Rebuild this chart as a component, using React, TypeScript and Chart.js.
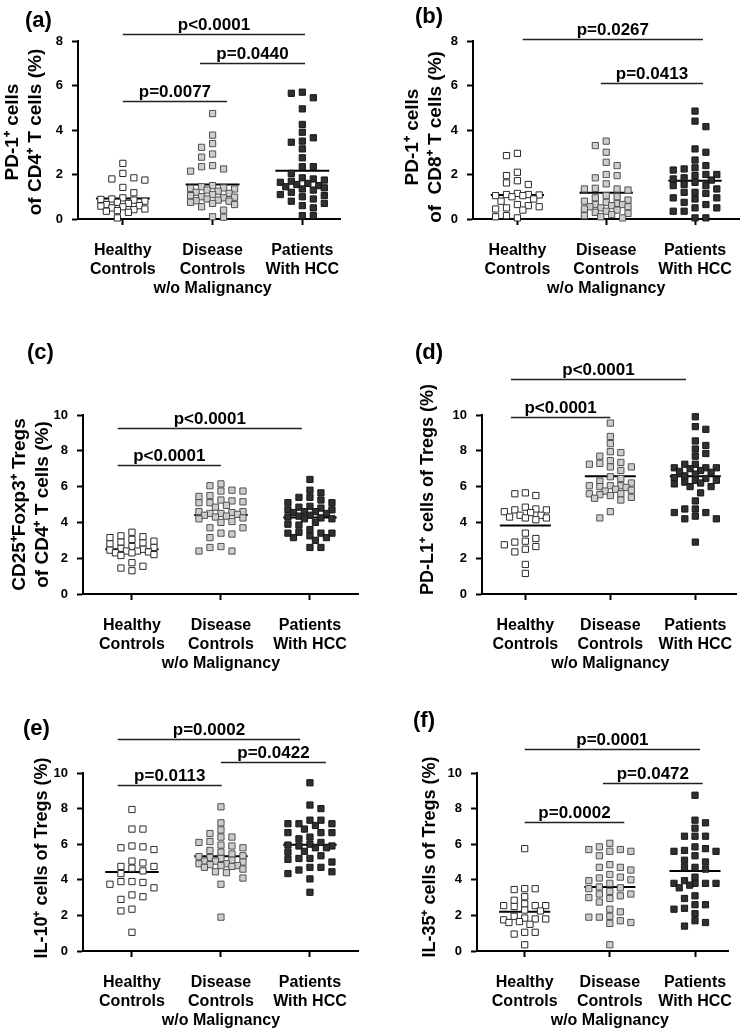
import React, { useEffect, useRef } from 'react';
import { Chart, registerables } from 'chart.js';
Chart.register(...registerables);

const FONT = "'Liberation Sans', Arial, Helvetica, sans-serif";

const categories: string[][] = [
  ['Healthy', 'Controls'],
  ['Disease', 'Controls', 'w/o Malignancy'],
  ['Patients', 'With HCC'],
];
const groupNames = ['Healthy Controls', 'Disease Controls', 'Patients With HCC'];

// ---- Panel (a): PD-1+ of CD4+ T cells ----
const a_HC = [2.5, 2.05, 1.85, 1.8, 1.75, 1.42, 1.18, 0.95, 0.9, 0.88, 0.85, 0.8, 0.75, 0.7, 0.65, 0.6, 0.58, 0.55, 0.5, 0.45, 0.42, 0.38, 0.35, 0.3, 0.05];
const a_DC = [4.74, 3.77, 3.39, 3.22, 2.92, 2.78, 2.4, 2.35, 2.25, 2.15, 1.5, 1.45, 1.4, 1.38, 1.35, 1.3, 1.25, 1.2, 1.15, 1.1, 1.05, 1.0, 0.98, 0.95, 0.9, 0.85, 0.82, 0.8, 0.75, 0.7, 0.65, 0.55, 0.4, 0.1, 0.08];
const a_HCC = [5.7, 5.65, 5.45, 4.95, 4.25, 3.9, 3.65, 3.5, 3.45, 3.15, 2.75, 2.35, 2.35, 2.05, 1.85, 1.8, 1.75, 1.7, 1.65, 1.6, 1.55, 1.5, 1.45, 1.4, 1.35, 1.3, 1.2, 1.1, 1.05, 1.0, 0.9, 0.8, 0.7, 0.6, 0.5, 0.15, 0.15];
const a_means = [0.92, 1.55, 2.17];
const a_brackets: [number, number, number, string][] = [
  [1.0, 3.03, 8.3, 'p<0.0001'],
  [1.86, 3.03, 7.0, 'p=0.0440'],
  [1.0, 2.16, 5.3, 'p=0.0077'],
];

// ---- Panel (b): PD-1+ of CD8+ T cells ----
const b_HC = [2.95, 2.85, 2.1, 1.95, 1.72, 1.62, 1.55, 1.15, 1.1, 1.1, 1.08, 1.05, 1.05, 1.0, 0.9, 0.8, 0.65, 0.6, 0.55, 0.5, 0.45, 0.4, 0.15, 0.1, 0.05];
const b_DC = [3.5, 3.3, 3.0, 2.55, 2.4, 2.0, 1.95, 1.85, 1.58, 1.38, 1.35, 1.35, 1.3, 1.05, 1.0, 0.95, 0.85, 0.8, 0.75, 0.7, 0.65, 0.65, 0.6, 0.55, 0.55, 0.5, 0.45, 0.4, 0.35, 0.3, 0.25, 0.2, 0.15, 0.1, 0.05];
const b_HCC = [4.85, 4.4, 4.15, 3.15, 3.0, 2.65, 2.4, 2.3, 2.25, 2.2, 2.0, 2.0, 1.95, 1.85, 1.8, 1.75, 1.65, 1.55, 1.5, 1.5, 1.35, 1.2, 1.2, 1.15, 0.95, 0.95, 0.9, 0.75, 0.65, 0.5, 0.5, 0.35, 0.35, 0.05, 0.05];
const b_means = [1.08, 1.18, 1.72];
const b_brackets: [number, number, number, string][] = [
  [1.06, 3.09, 8.1, 'p=0.0267'],
  [1.94, 3.09, 6.1, 'p=0.0413'],
];

// ---- Panel (c): CD25+Foxp3+ Tregs of CD4+ T cells ----
const c_HC = [3.45, 3.25, 3.2, 3.15, 3.05, 2.95, 2.9, 2.85, 2.8, 2.65, 2.6, 2.55, 2.5, 2.45, 2.4, 2.4, 2.35, 2.3, 2.3, 2.2, 2.15, 1.75, 1.55, 1.45, 1.3];
const c_DC = [6.15, 6.05, 5.8, 5.75, 5.75, 5.5, 5.45, 5.25, 5.2, 5.15, 5.1, 5.1, 4.95, 4.85, 4.6, 4.6, 4.55, 4.5, 4.5, 4.45, 4.4, 4.35, 4.3, 4.25, 4.2, 4.05, 4.0, 3.7, 3.7, 3.4, 3.35, 3.15, 2.65, 2.6, 2.4, 2.4];
const c_HCC = [6.4, 5.8, 5.65, 5.4, 5.4, 5.25, 5.1, 5.1, 4.9, 4.85, 4.8, 4.7, 4.7, 4.6, 4.6, 4.55, 4.5, 4.4, 4.35, 4.3, 4.25, 4.2, 4.2, 4.0, 3.9, 3.85, 3.6, 3.45, 3.4, 3.4, 3.4, 3.25, 3.15, 3.15, 3.0, 2.6, 2.6];
const c_means = [2.5, 4.42, 4.27];
const c_brackets: [number, number, number, string][] = [
  [0.84, 2.91, 9.3, 'p<0.0001'],
  [0.84, 2.0, 7.2, 'p<0.0001'],
];

// ---- Panel (d): PD-L1+ cells of Tregs ----
const d_HC = [5.65, 5.6, 5.5, 4.85, 4.75, 4.7, 4.7, 4.6, 4.55, 4.4, 4.4, 4.3, 4.25, 4.25, 4.15, 3.4, 3.1, 2.95, 2.9, 2.75, 2.65, 2.5, 2.35, 1.65, 1.15];
const d_DC = [9.55, 8.8, 8.4, 7.95, 7.9, 7.7, 7.45, 7.35, 7.3, 7.25, 7.1, 7.1, 6.9, 6.55, 6.45, 6.3, 6.2, 6.05, 6.05, 6.05, 6.0, 5.95, 5.85, 5.8, 5.75, 5.6, 5.6, 5.55, 5.5, 5.4, 5.35, 5.25, 4.6, 4.25];
const d_HCC = [9.9, 9.35, 9.2, 8.55, 8.3, 8.1, 7.85, 7.7, 7.25, 7.25, 7.05, 7.05, 7.05, 7.0, 6.9, 6.85, 6.8, 6.7, 6.6, 6.5, 6.45, 6.35, 6.35, 6.25, 6.2, 6.15, 6.0, 6.0, 5.65, 5.2, 4.75, 4.75, 4.55, 4.55, 4.35, 4.2, 4.2, 2.9];
const d_means = [3.82, 6.58, 6.58];
const d_brackets: [number, number, number, string][] = [
  [0.83, 2.89, 12.0, 'p<0.0001'],
  [0.83, 2.0, 9.9, 'p<0.0001'],
];

// ---- Panel (e): IL-10+ cells of Tregs ----
const e_HC = [7.95, 6.85, 6.85, 5.9, 5.85, 5.8, 5.7, 5.05, 4.95, 4.75, 4.75, 4.65, 4.5, 4.35, 3.9, 3.9, 3.85, 3.75, 3.55, 3.15, 3.05, 2.9, 2.35, 2.25, 1.05];
const e_DC = [8.1, 7.2, 6.8, 6.6, 6.4, 6.4, 6.15, 6.1, 5.95, 5.9, 5.8, 5.65, 5.55, 5.45, 5.35, 5.3, 5.25, 5.2, 5.1, 5.05, 5.05, 5.0, 4.9, 4.9, 4.85, 4.8, 4.8, 4.75, 4.7, 4.6, 4.45, 4.4, 4.1, 3.75, 1.9];
const e_HCC = [9.45, 8.2, 8.0, 7.35, 7.35, 7.15, 7.15, 7.15, 7.05, 6.85, 6.65, 6.65, 6.65, 6.4, 6.3, 6.1, 6.0, 5.95, 5.9, 5.9, 5.8, 5.8, 5.6, 5.55, 5.35, 5.2, 5.2, 5.15, 5.0, 4.7, 4.7, 4.55, 4.45, 4.35, 4.05, 3.3];
const e_means = [4.44, 5.33, 5.97];
const e_brackets: [number, number, number, string][] = [
  [0.84, 2.89, 11.9, 'p=0.0002'],
  [2.0, 3.18, 10.6, 'p=0.0422'],
  [0.84, 2.01, 9.3, 'p=0.0113'],
];

// ---- Panel (f): IL-35+ cells of Tregs ----
const f_HC = [5.75, 3.5, 3.5, 3.45, 3.05, 2.85, 2.65, 2.55, 2.55, 2.55, 2.5, 2.3, 2.25, 1.95, 1.85, 1.8, 1.8, 1.75, 1.65, 1.6, 1.5, 1.05, 1.05, 0.95, 0.35];
const f_DC = [6.05, 5.85, 5.7, 5.7, 5.6, 5.6, 5.35, 4.85, 4.7, 4.7, 4.55, 4.3, 4.15, 4.1, 4.0, 3.95, 3.8, 3.6, 3.55, 3.5, 3.35, 3.2, 3.2, 3.1, 3.0, 2.95, 2.75, 2.35, 2.2, 1.95, 1.9, 1.9, 1.7, 1.6, 1.55, 0.35];
const f_HCC = [8.75, 7.35, 7.2, 6.9, 6.45, 6.45, 6.45, 5.85, 5.75, 5.65, 5.6, 5.6, 5.35, 5.1, 5.0, 4.7, 4.7, 4.6, 4.15, 3.95, 3.8, 3.8, 3.8, 3.8, 3.7, 3.55, 3.1, 2.95, 2.6, 2.6, 2.4, 2.35, 2.1, 1.7, 1.6, 1.4];
const f_means = [2.2, 3.6, 4.49];
const f_brackets: [number, number, number, string][] = [
  [1.0, 3.06, 11.35, 'p=0.0001'],
  [1.92, 3.09, 9.44, 'p=0.0472'],
  [1.0, 2.17, 7.25, 'p=0.0002'],
];

const groupStyles = [
  { fill: '#ffffff', border: '#2a2a2a' },
  { fill: '#cdcdcd', border: '#505050' },
  { fill: '#303030', border: '#161616' },
];

type PanelCfg = {
  label: string;
  title: string[];
  titleSize: number;
  groups: number[][];
  means: number[];
  brackets: [number, number, number, string][];
  yMax: number;
  xMin: number;
  xMax: number;
  // layout (page px)
  x0: number; y0: number; w: number; h: number;
  L: number; T: number; R: number; B: number;
  titleX: number; titleDy: number; labelX: number; labelY: number;
};

const panels: PanelCfg[] = [
  { label: '(a)', title: ['PD-1⁺ cells', 'of CD4⁺ T cells (%)'], titleSize: 19, groups: [a_HC, a_DC, a_HCC], means: a_means, brackets: a_brackets, yMax: 8, xMin: 0.5, xMax: 3.42,
    x0: 0, y0: 0, w: 372, h: 305, L: 78, T: 41, R: 340, B: 219, titleX: 13, titleDy: 2, labelX: 25, labelY: 21 },
  { label: '(b)', title: ['PD-1⁺ cells', 'of  CD8⁺ T cells (%)'], titleSize: 19, groups: [b_HC, b_DC, b_HCC], means: b_means, brackets: b_brackets, yMax: 8, xMin: 0.5, xMax: 3.5,
    x0: 375, y0: 0, w: 374, h: 305, L: 473, T: 41, R: 742, B: 219, titleX: 413, titleDy: 7, labelX: 415, labelY: 17 },
  { label: '(c)', title: ['CD25⁺Foxp3⁺ Tregs', 'of CD4⁺ T cells (%)'], titleSize: 19, groups: [c_HC, c_DC, c_HCC], means: c_means, brackets: c_brackets, yMax: 10, xMin: 0.45, xMax: 3.54,
    x0: 0, y0: 320, w: 372, h: 357, L: 83, T: 415, R: 358, B: 594, titleX: 20, titleDy: 0, labelX: 27, labelY: 353 },
  { label: '(d)', title: ['PD-L1⁺ cells of Tregs (%)'], titleSize: 18, groups: [d_HC, d_DC, d_HCC], means: d_means, brackets: d_brackets, yMax: 10, xMin: 0.49, xMax: 3.48,
    x0: 375, y0: 320, w: 374, h: 357, L: 482, T: 415, R: 748, B: 594, titleX: 428, titleDy: -15, labelX: 415, labelY: 353 },
  { label: '(e)', title: ['IL-10⁺ cells of Tregs (%)'], titleSize: 18, groups: [e_HC, e_DC, e_HCC], means: e_means, brackets: e_brackets, yMax: 10, xMin: 0.45, xMax: 3.54,
    x0: 0, y0: 680, w: 372, h: 353, L: 83, T: 773, R: 358, B: 951, titleX: 42, titleDy: -4, labelX: 23, labelY: 729 },
  { label: '(f)', title: ['IL-35⁺ cells of Tregs (%)'], titleSize: 18, groups: [f_HC, f_DC, f_HCC], means: f_means, brackets: f_brackets, yMax: 10, xMin: 0.44, xMax: 3.39,
    x0: 375, y0: 680, w: 374, h: 353, L: 477, T: 773, R: 740, B: 951, titleX: 430, titleDy: -5, labelX: 413, labelY: 721 },
];

// beeswarm-style horizontal spreading of one group's points (positions only, values untouched)
function swarm(values: number[], center: number, pxPerY: number, pxPerX: number) {
  const idx = values.map((_, i) => i).sort((a, b) => values[b] - values[a]);
  const placed: { dx: number; py: number }[] = [];
  const out: { x: number; y: number }[] = [];
  const step = 5.5;
  const size = 6.8;
  idx.forEach((i, k) => {
    const v = values[i];
    const py = v * pxPerY;
    const d = k % 2 === 0 ? 1 : -1;
    const cand = [0, 2 * d, -2 * d, d, -d, 4 * d, -4 * d, 3 * d, -3 * d];
    let chosen = 0;
    let best = Infinity;
    for (const s of cand) {
      const dx = s * step;
      let ov = 0;
      for (const p of placed) {
        const ox = size - Math.abs(p.dx - dx);
        const oy = size - Math.abs(p.py - py);
        if (ox > 0 && oy > 0) ov += ox * oy;
      }
      if (ov === 0) { chosen = s; best = 0; break; }
      if (ov < best - 1) { best = ov; chosen = s; }
    }
    placed.push({ dx: chosen * step, py });
    out.push({ x: center + (chosen * step) / pxPerX, y: v });
  });
  return out;
}

const annotPlugin = {
  id: 'annot',
  afterDraw(chart: any, _args: any, opts: any) {
    const { ctx, chartArea } = chart;
    const x = chart.scales.x;
    const y = chart.scales.y;
    ctx.save();
    ctx.fillStyle = '#000';
    // panel letter
    ctx.font = `bold 22px ${FONT}`;
    ctx.textAlign = 'left';
    ctx.textBaseline = 'middle';
    ctx.fillText(opts.label, opts.labelX, opts.labelY);
    // y axis title (rotated)
    ctx.save();
    const cy = (chartArea.top + chartArea.bottom) / 2 + opts.titleDy;
    ctx.font = `bold ${opts.titleSize}px ${FONT}`;
    ctx.textAlign = 'center';
    ctx.textBaseline = 'middle';
    const lh = opts.titleSize * 1.2;
    (opts.title as string[]).forEach((line, i) => {
      ctx.save();
      ctx.translate(opts.titleX + i * lh, cy);
      ctx.rotate(-Math.PI / 2);
      ctx.fillText(line, 0, 0);
      ctx.restore();
    });
    ctx.restore();
    // significance brackets
    ctx.font = `bold 17px ${FONT}`;
    ctx.textAlign = 'center';
    ctx.textBaseline = 'alphabetic';
    ctx.strokeStyle = '#222';
    ctx.lineWidth = 1.5;
    for (const b of opts.brackets as [number, number, number, string][]) {
      const x1 = x.getPixelForValue(b[0]);
      const x2 = x.getPixelForValue(b[1]);
      const yy = Math.round(y.getPixelForValue(b[2])) + 0.5;
      ctx.beginPath();
      ctx.moveTo(x1, yy);
      ctx.lineTo(x2, yy);
      ctx.stroke();
      ctx.fillText(b[3], (x1 + x2) / 2, yy - 5);
    }
    ctx.restore();
  },
};

function buildConfig(p: PanelCfg): any {
  const plotW = p.R - p.L;
  const plotH = p.B - p.T;
  const pxPerX = plotW / (p.xMax - p.xMin);
  const pxPerY = plotH / p.yMax;
  const yAxisW = p.L - p.x0;
  const xAxisH = p.y0 + p.h - p.B;

  const pointSets = p.groups.map((vals, g) => ({
    label: groupNames[g],
    data: swarm(vals, g + 1, pxPerY, pxPerX),
    pointStyle: 'rect',
    pointRadius: 4.4,
    pointHoverRadius: 4.4,
    backgroundColor: groupStyles[g].fill,
    borderColor: groupStyles[g].border,
    pointBorderWidth: 1,
    showLine: false,
    clip: false,
  }));
  const meanSets = p.means.map((m, g) => ({
    type: 'line',
    label: 'mean ' + groupNames[g],
    data: [{ x: g + 1 - 0.3, y: m }, { x: g + 1 + 0.3, y: m }],
    borderColor: '#000',
    borderWidth: 2,
    pointRadius: 0,
    showLine: true,
    clip: false,
  }));

  const tickFont = { family: FONT, size: 13, weight: 'bold' };
  return {
    type: 'scatter',
    data: { datasets: [...pointSets, ...meanSets] },
    plugins: [annotPlugin],
    options: {
      animation: false,
      responsive: false,
      devicePixelRatio: 1,
      events: [],
      layout: { padding: { left: 0, top: p.T - p.y0, right: p.x0 + p.w - p.R, bottom: 0 } },
      plugins: {
        legend: { display: false },
        tooltip: { enabled: false },
        annot: {
          label: p.label,
          labelX: p.labelX - p.x0,
          labelY: p.labelY - p.y0,
          brackets: p.brackets,
          title: p.title,
          titleSize: p.titleSize,
          titleX: p.titleX - p.x0,
          titleDy: p.titleDy,
        },
      },
      scales: {
        x: {
          type: 'linear',
          min: p.xMin,
          max: p.xMax,
          afterBuildTicks: (s: any) => { s.ticks = [1, 2, 3].map((v) => ({ value: v })); },
          afterFit: (s: any) => { s.height = xAxisH; },
          ticks: {
            autoSkip: false,
            maxRotation: 0,
            padding: 16,
            color: '#000',
            font: { family: FONT, size: 16, weight: 'bold', lineHeight: 1.2 },
            callback: (v: number) => categories[Math.round(v) - 1],
          },
          grid: { drawOnChartArea: false, drawTicks: true, tickLength: 6, tickWidth: 2, tickColor: '#000' },
          border: { display: true, color: '#000', width: 2 },
        },
        y: {
          type: 'linear',
          min: 0,
          max: p.yMax,
          afterFit: (s: any) => { s.width = yAxisW; },
          ticks: { stepSize: 2, padding: 9, color: '#000', font: tickFont },
          grid: { drawOnChartArea: false, drawTicks: true, tickLength: 6, tickWidth: 2, tickColor: '#000' },
          border: { display: true, color: '#000', width: 2 },
        },
      },
    },
  };
}

function Panel({ p }: { p: PanelCfg }) {
  const ref = useRef<HTMLCanvasElement>(null);
  useEffect(() => {
    if (!ref.current) return;
    const chart = new Chart(ref.current, buildConfig(p));
    return () => chart.destroy();
  }, [p]);
  return (
    <canvas
      ref={ref}
      width={p.w}
      height={p.h}
      style={{ position: 'absolute', left: p.x0, top: p.y0, width: p.w, height: p.h }}
    />
  );
}

export default function App() {
  return (
    <div style={{ position: 'absolute', left: 0, top: 0, width: 749, height: 1033, background: '#fff', overflow: 'hidden' }}>
      {panels.map((p) => (
        <Panel key={p.label} p={p} />
      ))}
    </div>
  );
}
